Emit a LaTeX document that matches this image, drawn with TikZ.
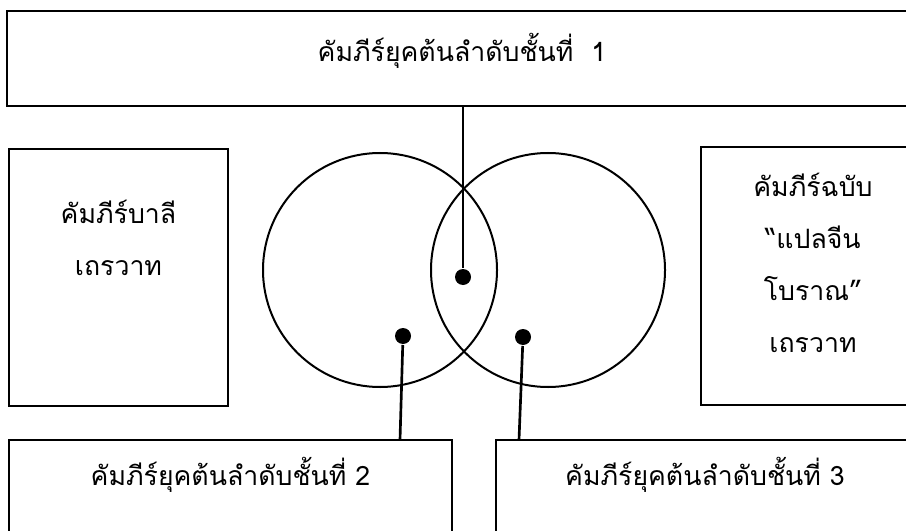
\documentclass[tikz,border=0pt]{standalone}
\usepackage{fontspec}
\newfontfamily\thaifont[Script=Thai]{Loma}
\usetikzlibrary{positioning}

\begin{document}
\begin{tikzpicture}[x=0.75pt,y=-0.75pt,line width=1.5pt,
  box/.style={draw,rectangle,align=center,font=\thaifont\fontsize{20}{39}\selectfont},
  ring/.style={draw,circle,minimum size=175.5pt},
  dot/.style={fill,circle,inner sep=0pt,minimum size=12pt}]
  \useasboundingbox (0,0) rectangle (906,531);
  \clip (0,0) rectangle (906,531);
  \node[box,minimum width=682.5pt,minimum height=71.25pt,text depth=16pt](first) at (462,58.5) {คัมภีร์ยุคต้นลำดับชั้นที่~~1};
  \node[box,minimum width=164.25pt,minimum height=192.75pt,text depth=60pt](pali) at (118.5,277.5) {คัมภีร์บาลี\\เถรวาท};
  \node[box,minimum width=168pt,minimum height=193.5pt,text depth=20pt](chinese) at (813,276) {คัมภีร์ฉบับ\\“แปลจีน\\โบราณ”\\เถรวาท};
  \node[box,minimum width=332.25pt,minimum height=71.25pt,text depth=24pt](second) at (230.5,487.5) {คัมภีร์ยุคต้นลำดับชั้นที่ 2};
  \node[box,minimum width=313.5pt,minimum height=71.25pt,text depth=24pt](third) at (705,487.5) {คัมภีร์ยุคต้นลำดับชั้นที่ 3};
  \node[ring](leftring) at (380,270) {};
  \node[ring](rightring) at (548,270) {};
  \node[dot](dotone) at (463,277) {};
  \node[dot](dottwo) at (403,336) {};
  \node[dot](dotthree) at (523,337) {};
  \coordinate (legtwo) at (400,440);
  \coordinate (legthree) at (519,440);
  \draw[line width=2pt] (first.south -| dotone) -- (dotone);
  \draw[line width=2pt] (dottwo) -- (legtwo);
  \draw[line width=2pt] (dotthree) -- (legthree);
\end{tikzpicture}
\end{document}
